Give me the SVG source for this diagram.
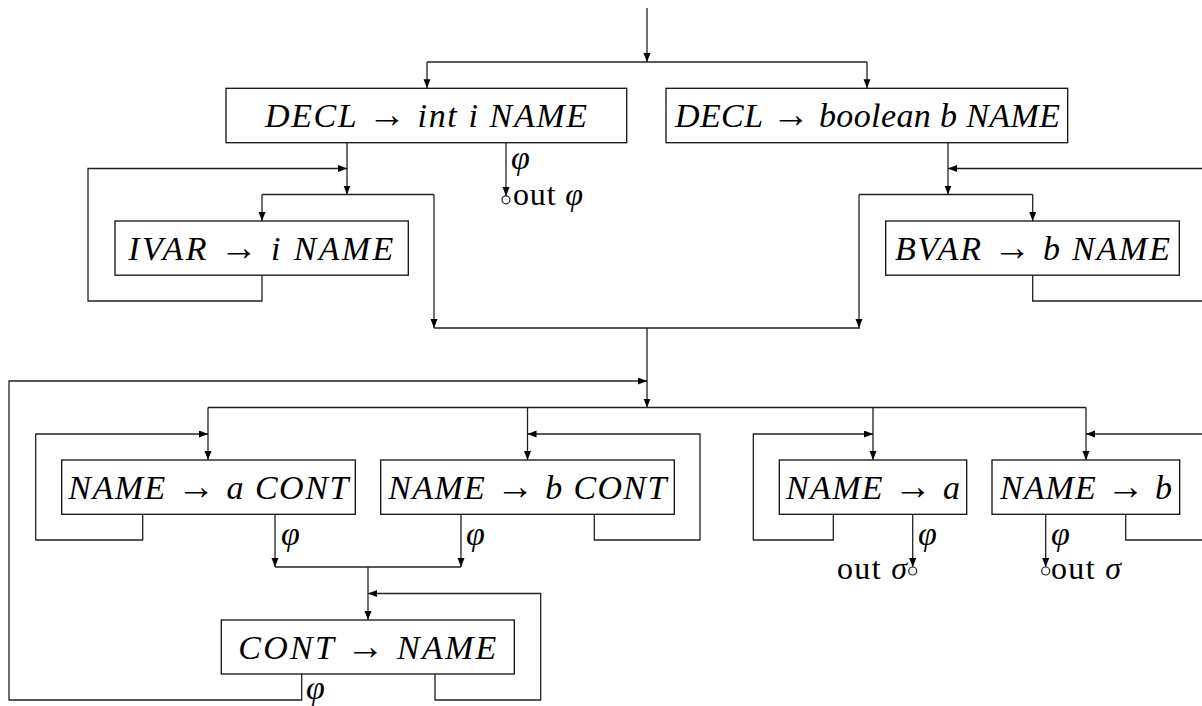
<svg xmlns="http://www.w3.org/2000/svg" width="1202" height="706" viewBox="0 0 1202 706">
<style>
.box{fill:#fff;stroke:#111;stroke-width:1.3}
.m{font-family:"Liberation Serif","DejaVu Serif",serif;font-size:34px;font-style:italic;fill:#000}
.r{font-style:normal;font-size:38px}
.t{font-family:"Liberation Serif","DejaVu Serif",serif;font-size:32px;fill:#000}
.c{fill:none;stroke:#222;stroke-width:1.3}
.a{fill:none;stroke:#222;stroke-width:1.3;marker-end:url(#ah)}
.o{fill:#fff;stroke:#222;stroke-width:1.2}
</style>
<defs>
<marker id="ah" markerUnits="userSpaceOnUse" markerWidth="10" markerHeight="8" refX="9" refY="3.5" orient="auto">
<path d="M0,0 L9,3.5 L0,7 z" fill="#000"/>
</marker>
</defs>
<g id="connectors">
<path class="a" d="M647,8 V62"/>
<path class="c" d="M427,62 H867"/>
<path class="a" d="M427,62 V88.3"/>
<path class="a" d="M867,62 V88.3"/>
<path class="a" d="M347,142.7 V194.5"/>
<path class="a" d="M262,275 V301 H88 V168.5 H347"/>
<path class="c" d="M262,194.5 H434"/>
<path class="a" d="M262,194.5 V221"/>
<path class="a" d="M434,194.5 V328"/>
<path class="a" d="M506,142.7 V196"/>
<circle class="o" cx="506" cy="199.8" r="4"/>
<path class="a" d="M948,142.7 V194.5"/>
<path class="c" d="M1032.7,275 V301 H1202"/>
<path class="a" d="M1202,168.5 H948"/>
<path class="c" d="M859,194.5 H1032.7"/>
<path class="a" d="M1032.7,194.5 V221"/>
<path class="a" d="M859,194.5 V328"/>
<path class="c" d="M434,328 H860"/>
<path class="a" d="M647,328 V407.5"/>
<path class="a" d="M301.7,674 V700 H9 V381 H647"/>
<path class="c" d="M208,407.5 H1086"/>
<path class="a" d="M208,407.5 V460"/>
<path class="a" d="M527.5,407.5 V460"/>
<path class="a" d="M873,407.5 V460"/>
<path class="a" d="M1086,407.5 V460"/>
<path class="a" d="M142.7,514.3 V540 H35.7 V434 H208"/>
<path class="a" d="M594.3,514.3 V540 H700 V434 H527.5"/>
<path class="a" d="M275,514.3 V567"/>
<path class="a" d="M461,514.3 V567"/>
<path class="c" d="M275,567 H461"/>
<path class="a" d="M368,567 V620"/>
<path class="a" d="M435,674 V700 H540.7 V593.5 H368"/>
<path class="a" d="M833.3,514.3 V540 H753.3 V434 H873"/>
<path class="a" d="M912.7,514.3 V567"/>
<circle class="o" cx="912.7" cy="571" r="4"/>
<path class="c" d="M1125.7,514.3 V540 H1202"/>
<path class="a" d="M1202,434 H1086"/>
<path class="a" d="M1045.7,514.3 V567"/>
<circle class="o" cx="1045.7" cy="571" r="4"/>
</g>
<g id="labels">
<text class="m" x="511" y="169">φ</text>
<text class="t" x="513" y="205" textLength="70">out <tspan font-style="italic">φ</tspan></text>
<text class="m" x="281" y="545">φ</text>
<text class="m" x="466" y="545">φ</text>
<text class="m" x="918" y="545">φ</text>
<text class="m" x="1051" y="545">φ</text>
<text class="t" x="837" y="579" textLength="70">out <tspan font-style="italic">σ</tspan></text>
<text class="t" x="1051" y="579" textLength="70">out <tspan font-style="italic">σ</tspan></text>
<text class="m" x="306" y="699" font-size="30">φ</text>
</g>
<g id="nA">
<rect class="box" x="226" y="88.3" width="400.7" height="54.4"/>
<text class="m" x="265" y="127" textLength="322" lengthAdjust="spacing">DECL <tspan class="r">→</tspan> int i NAME</text>
</g>
<g id="nB">
<rect class="box" x="666" y="88.3" width="401.7" height="54.4"/>
<text class="m" x="675" y="127" textLength="385" lengthAdjust="spacing">DECL <tspan class="r">→</tspan> boolean b NAME</text>
</g>
<g id="nC">
<rect class="box" x="115" y="221" width="293.3" height="54.2"/>
<text class="m" x="128.3" y="259.5" textLength="265" lengthAdjust="spacing">IVAR <tspan class="r">→</tspan> i NAME</text>
</g>
<g id="nG">
<rect class="box" x="885.7" y="221" width="293.6" height="54.2"/>
<text class="m" x="895" y="259.5" textLength="275" lengthAdjust="spacing">BVAR <tspan class="r">→</tspan> b NAME</text>
</g>
<g id="nD">
<rect class="box" x="61.7" y="460" width="293.6" height="54.3"/>
<text class="m" x="68.3" y="498.5" textLength="280" lengthAdjust="spacing">NAME <tspan class="r">→</tspan> a CONT</text>
</g>
<g id="nE">
<rect class="box" x="380.7" y="460" width="293.6" height="54.3"/>
<text class="m" x="388.3" y="498.5" textLength="278" lengthAdjust="spacing">NAME <tspan class="r">→</tspan> b CONT</text>
</g>
<g id="nH">
<rect class="box" x="779.3" y="460" width="187.4" height="54.3"/>
<text class="m" x="786" y="498.5" textLength="174" lengthAdjust="spacing">NAME <tspan class="r">→</tspan> a</text>
</g>
<g id="nI">
<rect class="box" x="992" y="460" width="187.7" height="54.3"/>
<text class="m" x="1000" y="498.5" textLength="172" lengthAdjust="spacing">NAME <tspan class="r">→</tspan> b</text>
</g>
<g id="nF">
<rect class="box" x="221.3" y="620" width="293" height="54"/>
<text class="m" x="238.3" y="658.5" textLength="258" lengthAdjust="spacing">CONT <tspan class="r">→</tspan> NAME</text>
</g>
</svg>
